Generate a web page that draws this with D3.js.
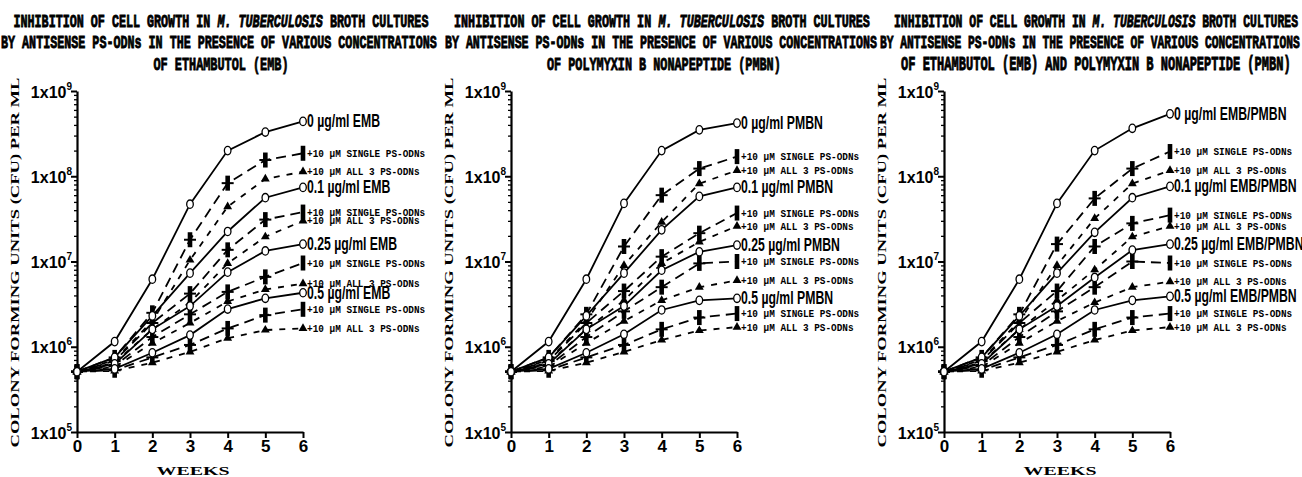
<!DOCTYPE html>
<html><head><meta charset="utf-8">
<script src="https://cdn.jsdelivr.net/npm/d3@7"></script>
<style>
body{margin:0;background:#fff;}
svg{display:block;}
</style></head><body>
<svg id="chart" width="1302" height="477"></svg>
<script>
// ---------------- DATA ----------------
const weeks = [0, 1, 2, 3, 4, 5, 6];
const xTickLabels = ["0", "1", "2", "3", "4", "5", "6"];
const yTickValues = [1e5, 1e6, 1e7, 1e8, 1e9];
const yTickExponents = ["5", "6", "7", "8", "9"];
const concentrations = ["0", "0.1", "0.25", "0.5"];
const drugNames = ["EMB", "PMBN", "EMB/PMBN"];
const singleLabel = "+10 \u00b5M SINGLE PS-ODNs";
const all3Label = "+10 \u00b5M ALL 3 PS-ODNs";
const titleLine1 = ["INHIBITION OF CELL GROWTH IN ", "M. TUBERCULOSIS", " BROTH CULTURES"];
const titleLine2 = "BY ANTISENSE PS-ODNs IN THE PRESENCE OF VARIOUS CONCENTRATIONS";
const titleLine3 = ["OF ETHAMBUTOL (EMB)", "OF POLYMYXIN B NONAPEPTIDE (PMBN)", "OF ETHAMBUTOL (EMB) AND POLYMYXIN B NONAPEPTIDE (PMBN)"];
const yAxisTitle = "COLONY  FORMING  UNITS  (CFU)  PER  ML";
const xAxisTitle = "WEEKS";

// Panel 1: ethambutol (rows = 0, 0.1, 0.25, 0.5 ug/ml)
const embControl = [
  [5.1e5, 1.15e6, 6.2e6, 4.7e7, 2.0e8, 3.3e8, 4.4e8],
  [5.1e5, 7.5e5, 2.3e6, 7.3e6, 2.25e7, 5.6e7, 7.4e7],
  [5.1e5, 6.3e5, 1.6e6, 3.0e6, 7.5e6, 1.33e7, 1.6e7],
  [5.1e5, 5.5e5, 8.5e5, 1.37e6, 2.77e6, 3.7e6, 4.3e6]
];
const embSingle = [
  [5.1e5, 7.5e5, 2.5e6, 1.8e7, 8.3e7, 1.55e8, 1.86e8],
  [5.1e5, 6.8e5, 1.9e6, 4.2e6, 1.37e7, 3.1e7, 3.8e7],
  [5.1e5, 6.0e5, 1.3e6, 2.4e6, 4.4e6, 6.6e6, 9.6e6],
  [5.1e5, 5.3e5, 7.5e5, 1.05e6, 1.64e6, 2.35e6, 2.75e6]
];
const embAll3 = [
  [5.1e5, 7.0e5, 2.0e6, 1.04e7, 4.4e7, 9.3e7, 1.13e8],
  [5.1e5, 6.5e5, 1.6e6, 3.3e6, 9.5e6, 1.95e7, 3.0e7],
  [5.1e5, 5.8e5, 1.1e6, 1.9e6, 3.4e6, 4.7e6, 5.5e6],
  [5.1e5, 5.2e5, 6.5e5, 8.7e5, 1.26e6, 1.57e6, 1.64e6]
];
// Panel 2: polymyxin B nonapeptide
const pmbnControl = [
  [5.1e5, 1.15e6, 6.2e6, 4.8e7, 2.0e8, 3.5e8, 4.2e8],
  [5.1e5, 7.5e5, 2.3e6, 7.3e6, 2.35e7, 5.8e7, 7.4e7],
  [5.1e5, 6.3e5, 1.6e6, 3.0e6, 7.9e6, 1.3e7, 1.56e7],
  [5.1e5, 5.5e5, 8.5e5, 1.4e6, 2.7e6, 3.5e6, 3.7e6]
];
const pmbnSingle = [
  [5.1e5, 7.5e5, 2.4e6, 1.5e7, 6.0e7, 1.23e8, 1.7e8],
  [5.1e5, 6.8e5, 1.9e6, 4.5e6, 1.14e7, 2.15e7, 3.7e7],
  [5.1e5, 6.0e5, 1.3e6, 2.6e6, 5.0e6, 9.5e6, 1.0e7],
  [5.1e5, 5.3e5, 7.5e5, 1.05e6, 1.6e6, 2.2e6, 2.45e6]
];
const pmbnAll3 = [
  [5.1e5, 7.0e5, 2.0e6, 9.0e6, 2.9e7, 8.2e7, 1.17e8],
  [5.1e5, 6.5e5, 1.6e6, 3.5e6, 9.5e6, 1.7e7, 2.6e7],
  [5.1e5, 5.8e5, 1.1e6, 2.0e6, 3.5e6, 5.0e6, 6.0e6],
  [5.1e5, 5.2e5, 6.5e5, 8.7e5, 1.2e6, 1.55e6, 1.7e6]
];
// Panel 3: ethambutol + polymyxin B nonapeptide
const bothControl = [
  [5.1e5, 1.15e6, 6.2e6, 4.8e7, 2.0e8, 3.65e8, 5.4e8],
  [5.1e5, 7.5e5, 2.3e6, 7.3e6, 2.2e7, 5.6e7, 7.6e7],
  [5.1e5, 6.3e5, 1.6e6, 3.0e6, 6.5e6, 1.36e7, 1.6e7],
  [5.1e5, 5.5e5, 8.5e5, 1.4e6, 2.7e6, 3.5e6, 3.9e6]
];
const bothSingle = [
  [5.1e5, 7.5e5, 2.4e6, 1.6e7, 5.5e7, 1.23e8, 1.95e8],
  [5.1e5, 6.8e5, 1.9e6, 4.5e6, 1.5e7, 2.8e7, 3.5e7],
  [5.1e5, 6.0e5, 1.3e6, 2.6e6, 5.0e6, 1.0e7, 9.6e6],
  [5.1e5, 5.3e5, 7.5e5, 1.05e6, 1.6e6, 2.2e6, 2.45e6]
];
const bothAll3 = [
  [5.1e5, 7.0e5, 2.0e6, 9.0e6, 3.2e7, 8.2e7, 1.17e8],
  [5.1e5, 6.5e5, 1.6e6, 3.5e6, 8.0e6, 1.95e7, 2.6e7],
  [5.1e5, 5.8e5, 1.1e6, 2.0e6, 3.3e6, 5.0e6, 5.8e6],
  [5.1e5, 5.2e5, 6.5e5, 8.7e5, 1.2e6, 1.55e6, 1.7e6]
];

const panels = [
  {drug: drugNames[0], title3: titleLine3[0], control: embControl, single: embSingle, all3: embAll3},
  {drug: drugNames[1], title3: titleLine3[1], control: pmbnControl, single: pmbnSingle, all3: pmbnAll3},
  {drug: drugNames[2], title3: titleLine3[2], control: bothControl, single: bothSingle, all3: bothAll3}
];

// ---------------- LAYOUT ----------------
const svg = d3.select("#chart");
const panelLeft = [77, 511, 944];
// title line geometry per panel: [center, width] for lines 1..3
const titleGeom = [
  [[221, 415], [219, 436], [221, 135]],
  [[662, 416], [661, 432], [664, 234]],
  [[1096, 404], [1090, 420], [1096, 390]]
];
const titleBase = [27, 48, 70];
const showWeeks = [true, false, true];
const plotW = 226, yTop = 91, yBot = 432;
const monoFont = "'Liberation Mono', 'Courier New', monospace";
const sansFont = "'Liberation Sans', Arial, sans-serif";
const serifFont = "'Liberation Serif', 'Times New Roman', serif";

const x = d3.scaleLinear().domain([0, 6]).range([0, plotW]);
const y = d3.scaleLog().domain([1e5, 1e9]).range([yBot, yTop]);
const line = d3.line().x((d, i) => x(weeks[i])).y(d => y(d));

// monospace title line: font size chosen so the natural width matches, glyphs stretched vertically
function titleLine(cx, base, w, segs) {
  const n = segs.reduce((a, s) => a + s[0].length, 0);
  const fs = w / (n * 0.6);
  let xs = cx - w / 2;
  segs.forEach(([txt, it]) => {
    svg.append("text")
      .attr("transform", `translate(${xs},${base}) scale(1,1.62)`)
      .attr("font-family", monoFont).attr("font-weight", "bold")
      .attr("font-style", it ? "italic" : "normal")
      .attr("font-size", fs).attr("stroke", "#000").attr("stroke-width", 0.55)
      .attr("xml:space", "preserve").style("white-space", "pre")
      .text(txt);
    xs += txt.length * 0.6 * fs;
  });
}

panels.forEach((p, pi) => {
  const tg = titleGeom[pi];
  titleLine(tg[0][0], titleBase[0], tg[0][1], titleLine1.map((s, k) => [s, k === 1]));
  titleLine(tg[1][0], titleBase[1], tg[1][1], [[titleLine2, false]]);
  titleLine(tg[2][0], titleBase[2], tg[2][1], [[p.title3, false]]);

  const g = svg.append("g").attr("transform", `translate(${panelLeft[pi]},0)`);

  // y axis title
  g.append("text")
    .attr("transform", `translate(-58,${(yTop + yBot) / 2 + 1}) rotate(-90)`)
    .attr("text-anchor", "middle").attr("font-family", serifFont)
    .attr("font-weight", "bold").attr("font-size", 12.5)
    .attr("textLength", 370).attr("lengthAdjust", "spacingAndGlyphs")
    .text(yAxisTitle);

  // x axis title
  if (showWeeks[pi]) {
    g.append("text")
      .attr("x", plotW / 2 + 3).attr("y", 475)
      .attr("text-anchor", "middle").attr("font-family", serifFont)
      .attr("font-weight", "bold").attr("font-size", 12.5)
      .attr("textLength", 73).attr("lengthAdjust", "spacingAndGlyphs")
      .text(xAxisTitle);
  }

  // minor y ticks
  const minors = [];
  for (let e = 5; e < 9; e++) for (let m = 2; m <= 9; m++) minors.push(m * Math.pow(10, e));
  const yMinor = g.append("g").call(d3.axisLeft(y).tickValues(minors).tickSize(3).tickFormat(""));
  yMinor.select(".domain").remove();
  yMinor.selectAll("line").attr("stroke-width", 1.3);
  const yAx = g.append("g").call(d3.axisLeft(y).tickValues(yTickValues).tickSize(6).tickSizeOuter(0).tickFormat(""));
  yAx.select(".domain").attr("stroke-width", 2.2);
  yAx.selectAll("line").attr("stroke-width", 2);
  yAx.selectAll(".tick").each(function(d, i) {
    const t = d3.select(this).append("text")
      .attr("x", -5).attr("y", 6).attr("fill", "#000")
      .attr("text-anchor", "end").attr("font-family", sansFont)
      .attr("font-weight", "bold").attr("font-size", 16);
    t.append("tspan").text("1x10");
    t.append("tspan").attr("font-size", 10).attr("dy", -8).text(yTickExponents[i]);
  });

  const xAx = g.append("g").attr("transform", `translate(0,${yBot})`)
    .call(d3.axisBottom(x).tickValues(weeks).tickSize(6).tickSizeOuter(0).tickPadding(2)
      .tickFormat((d, i) => xTickLabels[i]));
  xAx.select(".domain").attr("stroke-width", 2.2);
  xAx.selectAll("line").attr("stroke-width", 2);
  xAx.selectAll("text").attr("font-family", sansFont).attr("font-weight", "bold")
    .attr("font-size", 17).attr("fill", "#000");

  // lines
  const lines = g.append("g").attr("fill", "none").attr("stroke", "#000").attr("stroke-width", 1.8);
  p.all3.forEach(s => lines.append("path").attr("d", line(s)).attr("stroke-dasharray", "6,7"));
  p.single.forEach(s => lines.append("path").attr("d", line(s)).attr("stroke-dasharray", "10,6"));
  p.control.forEach(s => lines.append("path").attr("d", line(s)));

  // markers
  const last = weeks.length - 1;
  const tri = d3.symbol().type(d3.symbolTriangle).size(34);
  p.all3.forEach(s => s.forEach((v, i) => {
    g.append("path").attr("d", tri()).attr("transform", `translate(${x(weeks[i])},${y(v)})`).attr("fill", "#000");
  }));
  p.single.forEach(s => s.forEach((v, i) => {
    const cx = x(weeks[i]), cy = y(v);
    g.append("rect").attr("x", cx - 2.3).attr("y", cy - 7.5).attr("width", 4.6).attr("height", 15).attr("fill", "#000");
    if (i < last) {
      g.append("line").attr("x1", cx - 6).attr("x2", cx + 6).attr("y1", cy).attr("y2", cy).attr("stroke", "#000").attr("stroke-width", 2);
    }
  }));
  p.control.forEach(s => s.forEach((v, i) => {
    g.append("ellipse").attr("cx", x(weeks[i])).attr("cy", y(v)).attr("rx", 3.3).attr("ry", 4.2)
      .attr("fill", "#fff").attr("stroke", "#000").attr("stroke-width", 1.3);
  }));

  // end labels
  const xe = x(weeks[last]);
  p.control.forEach((s, k) => {
    g.append("text")
      .attr("transform", `translate(${xe + 4},${y(s[last]) + 6}) scale(0.7,1)`)
      .attr("font-family", sansFont).attr("font-weight", "bold").attr("font-size", 17.5)
      .text(`${concentrations[k]} \u00b5g/ml ${p.drug}`);
  });
  const smallLabel = (s, txt) => g.append("text")
      .attr("transform", `translate(${xe + 4},${y(s[last]) + 3.5}) scale(0.92,1)`)
      .attr("font-family", monoFont).attr("font-weight", "bold").attr("font-size", 10.2)
      .text(txt);
  p.single.forEach(s => smallLabel(s, singleLabel));
  p.all3.forEach(s => smallLabel(s, all3Label));
});
</script>
</body></html>
